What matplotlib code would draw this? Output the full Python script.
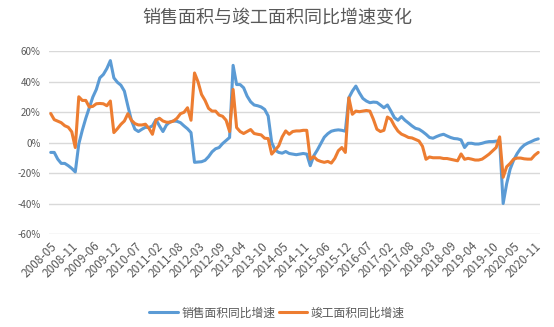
import matplotlib
matplotlib.use("Agg")
import matplotlib.pyplot as plt
import numpy as np

plt.rcParams['font.family'] = ['Noto Sans CJK SC', 'DejaVu Sans']

# Monthly categories (cumulative YoY, January merged into February)
months = [f"2008-{m:02d}" for m in range(5, 13)]
for year in range(2009, 2021):
    months += [f"{year}-{m:02d}" for m in range(2, 13)]

# 销售面积同比增速 (%)
sales_growth = [
    -6.5, -6.5, -10.9, -13.7, -13.7, -15.2, -17.0, -19.3,
    -1.0, 8.0, 15.9, 22.8, 29.8, 34.8, 42.4, 44.6, 48.5, 53.7, 42.4,
    39.5, 37.6, 33.7, 23.9, 14.6, 8.7, 7.2, 8.7, 10.0, 9.8, 10.9,
    15.0, 10.9, 7.2, 11.5, 13.5, 14.1, 13.9, 13.0, 10.9, 9.0, 6.5,
    -13.0, -12.8, -12.6, -11.7, -9.3, -6.1, -4.1, -3.3, -0.7, 1.3, 3.3,
    50.6, 38.0, 38.0, 35.9, 30.4, 26.7, 24.6, 24.1, 23.3, 21.7, 17.4,
    0.0, -5.0, -6.5, -7.0, -5.9, -7.2, -7.6, -8.0, -7.6, -7.2, -7.6,
    -15.2, -8.7, -5.0, -0.7, 3.5, 5.8, 7.4, 8.0, 8.3, 8.0, 7.4,
    29.3, 33.7, 37.0, 32.6, 28.9, 27.2, 26.1, 26.5, 26.3, 24.6, 22.8,
    24.6, 20.6, 16.3, 14.6, 17.0, 14.6, 12.8, 10.9, 9.3, 8.7, 7.2,
    5.4, 3.3, 2.8, 3.9, 4.8, 5.4, 4.3, 3.3, 2.6, 2.4, 1.7,
    -3.3, -0.5, -0.5, -1.0, -1.0, -0.5, 0.2, 0.6, 0.6, 0.9, 1.0,
    -40.0, -27.0, -17.4, -11.5, -7.2, -3.9, -1.7, -0.4, 0.6, 1.7, 2.4,
]

# 竣工面积同比增速 (%)
completion_growth = [
    19.0, 15.0, 14.0, 13.0, 11.0, 10.0, 7.0, -3.3,
    30.0, 27.6, 27.6, 23.3, 23.7, 25.4, 25.6, 25.4, 24.1, 27.2, 6.5,
    9.0, 11.9, 14.1, 18.9, 14.6, 12.4, 11.5, 11.5, 12.0, 9.3, 5.4,
    14.6, 15.9, 14.1, 13.3, 13.3, 14.1, 15.9, 18.9, 19.8, 22.8, 14.6,
    45.6, 39.8, 31.5, 27.6, 22.4, 20.6, 20.6, 18.0, 17.2, 14.6, 7.2,
    34.8, 9.8, 7.2, 5.9, 7.2, 8.5, 5.9, 5.4, 5.0, 2.8, 2.6,
    -7.6, -5.0, -2.2, 3.7, 7.6, 5.4, 7.2, 7.6, 7.6, 8.0, 8.0,
    -10.9, -9.3, -11.5, -12.4, -13.0, -12.4, -13.5, -10.4, -5.4, -3.3, -6.5,
    29.3, 18.5, 20.6, 20.2, 20.6, 21.0, 20.6, 15.2, 8.7, 7.2, 8.0,
    16.7, 15.2, 10.9, 7.5, 5.5, 4.5, 3.3, 3.0, 2.0, 1.0, -2.5,
    -11.0, -9.5, -10.0, -10.0, -10.0, -10.5, -10.5, -11.0, -11.5, -12.0, -7.5,
    -11.0, -10.4, -10.9, -11.5, -11.5, -10.9, -9.3, -7.6, -5.4, -3.3, 3.7,
    -22.8, -15.9, -13.7, -10.9, -10.2, -10.2, -10.7, -10.9, -10.9, -8.3, -6.5,
]

series_names = ["销售面积同比增速", "竣工面积同比增速"]
y_ticks = [60, 40, 20, 0, -20, -40, -60]
label_step = 6

BLUE = "#5B9BD5"
ORANGE = "#ED7D31"
TEXT = "#595959"
GRID = "#D9D9D9"

fig = plt.figure(figsize=(5.54, 3.27), dpi=100)
ax = fig.add_axes([0.0884, 0.2844, 0.8863, 0.5596])

x = np.arange(len(months))
ax.plot(x, sales_growth, color=BLUE, lw=2.2, label=series_names[0],
        solid_joinstyle="round", solid_capstyle="round")
ax.plot(x, completion_growth, color=ORANGE, lw=2.2, label=series_names[1],
        solid_joinstyle="round", solid_capstyle="round")

ax.set_xlim(-0.5, len(months) - 0.5)
ax.set_ylim(-60, 60)
ax.set_yticks(y_ticks)
ax.set_yticklabels([f"{v}%" for v in y_ticks], fontsize=7, color=TEXT)
ax.yaxis.grid(True, color=GRID, lw=1.0)
ax.set_axisbelow(True)

tick_pos = x[::label_step]
ax.set_xticks(tick_pos)
ax.set_xticklabels([months[i] for i in tick_pos], rotation=45, ha="right",
                   va="top", rotation_mode="anchor", fontsize=8.5, color=TEXT)
ax.tick_params(axis="both", length=0)
ax.tick_params(axis="x", pad=4)
ax.tick_params(axis="y", pad=6)
for s in ax.spines.values():
    s.set_visible(False)

fig.text(0.5, 1 - 18 / 327, "销售面积与竣工面积同比增速变化", ha="center",
         va="center", fontsize=13, color=TEXT)

fig.legend(loc="center", bbox_to_anchor=(0.5, 1 - 313 / 327), ncol=2,
           frameon=False, fontsize=8.5, handlelength=2.4, handletextpad=0.3,
           columnspacing=0.3, labelcolor=TEXT)

fig.savefig("out.png", dpi=100)
